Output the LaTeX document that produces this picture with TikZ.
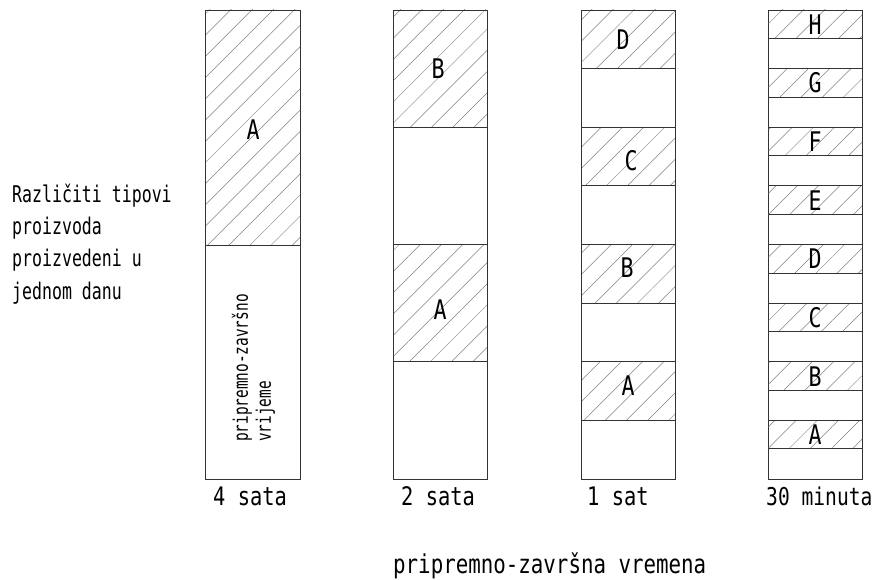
\documentclass[tikz,border=0pt]{standalone}
\usepackage{fontspec}
\newfontfamily\isofont[FakeStretch=0.8]{DejaVu Sans Mono}
\newfontfamily\isonarrow[FakeStretch=0.72]{DejaVu Sans Mono}
\usetikzlibrary{patterns.meta,positioning}

\begin{document}
\begin{tikzpicture}[x=1pt, y=-1pt,
    hatch/.style={pattern={Lines[angle=45,distance=15pt,line width=0.5pt]}, pattern color=black!50},
    cell/.style={draw=black!80, line width=0.9pt},
    prod/.style={font=\isofont\fontsize{27}{27}\selectfont, inner sep=0pt},
    timelabel/.style={font=\isofont\fontsize{25.5}{25.5}\selectfont, inner sep=0pt, anchor=base west}]
    \useasboundingbox (0,0) rectangle (877,580);

    % 4 sata
    \fill[hatch] (205.5,10) rectangle (300,245);
    \draw[cell] (205.5,10) rectangle (300,479);
    \draw[cell] (205.5,245) -- (300,245);
    \node[prod] (a1) at (253,130) {A};
    \node[rotate=90, align=left, inner sep=0pt,
          font=\isonarrow\fontsize{20}{23}\selectfont] (pzv) at (253.5,368)
          {pripremno-završno\\vrijeme};

    % 2 sata
    \foreach \t in {10,244.5}
        \fill[hatch] (393,\t) rectangle (487.5,\t+117.25);
    \draw[cell] (393,10) rectangle (487.5,479);
    \foreach \t in {127.25,244.5,361.75}
        \draw[cell] (393,\t) -- (487.5,\t);
    \node[prod] (b2) at (438,69) {B};
    \node[prod] (a2) at (440,310) {A};

    % 1 sat
    \foreach \k in {0,2,4,6}
        \fill[hatch] (581.5,10+\k*58.625) rectangle (675,10+\k*58.625+58.625);
    \draw[cell] (581.5,10) rectangle (675,479);
    \foreach \k in {1,...,7}
        \draw[cell] (581.5,10+\k*58.625) -- (675,10+\k*58.625);
    \node[prod] (d3) at (623,40) {D};
    \node[prod] (c3) at (631,161) {C};
    \node[prod] (b3) at (627,268) {B};
    \node[prod] (a3) at (628,386) {A};

    % 30 minuta
    \draw[cell] (768.5,10) rectangle (862,479);
    \foreach \k/\lab in {0/H,1/G,2/F,3/E,4/D,5/C,6/B,7/A} {
        \fill[hatch] (768.5,10+\k*58.625) rectangle (862,10+\k*58.625+28.5);
        \draw[cell] (768.5,10+\k*58.625) -- (862,10+\k*58.625)
                    (768.5,10+\k*58.625+28.5) -- (862,10+\k*58.625+28.5);
        \node[prod] (\lab4) at (815,10+\k*58.625+14.5) {\lab};
    }

    \node[timelabel] (sata4) at (213,505) {4 sata};
    \node[timelabel] (sata2) at (401,505) {2 sata};
    \node[timelabel] (sat1) at (587,505) {1 sat};
    \node[timelabel, font=\isofont\fontsize{24.5}{24.5}\selectfont] (min30) at (766,505) {30 minuta};

    \node[align=left, anchor=base west, inner sep=0pt,
          font=\isonarrow\fontsize{23}{32.3}\selectfont] (tipovi) at (12,299)
          {Različiti tipovi\\proizvoda\\proizvedeni u\\jednom danu};
    \node[font=\isofont\fontsize{26}{26}\selectfont, inner sep=0pt, anchor=base west]
          (vremena) at (393,573) {pripremno-završna vremena};
\end{tikzpicture}
\end{document}
